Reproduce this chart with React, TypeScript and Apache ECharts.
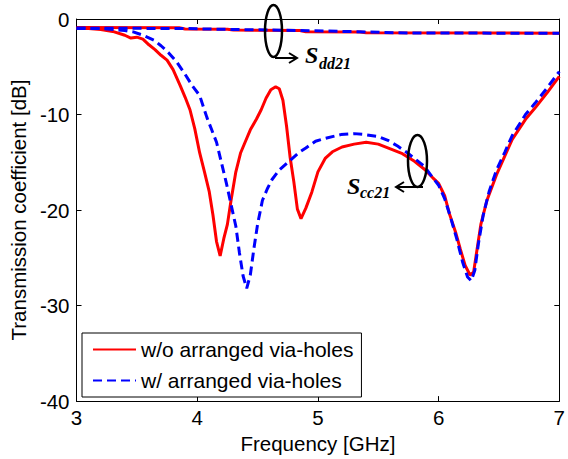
import React, { useEffect, useRef } from "react";
import * as echarts from "echarts";

// Common-mode transmission (Scc21), without arranged via-holes (red solid)
const freqWo = [3.0, 3.1, 3.2, 3.3, 3.4, 3.45, 3.5, 3.55, 3.6, 3.65, 3.7, 3.75, 3.8, 3.86, 3.9, 3.94, 3.98, 4.02, 4.06, 4.1, 4.13, 4.16, 4.19, 4.22, 4.25, 4.28, 4.32, 4.36, 4.4, 4.44, 4.49, 4.53, 4.57, 4.61, 4.65, 4.68, 4.71, 4.74, 4.77, 4.8, 4.83, 4.86, 4.9, 4.95, 5.0, 5.06, 5.12, 5.2, 5.3, 5.4, 5.5, 5.6, 5.7, 5.8, 5.88, 5.95, 6.0, 6.05, 6.09, 6.14, 6.18, 6.22, 6.26, 6.29, 6.32, 6.35, 6.4, 6.48, 6.55, 6.61, 6.72, 6.8, 6.9, 7.0];
const scc21Wo = [-1.0, -1.0, -1.1, -1.3, -1.7, -2.0, -1.9, -2.1, -2.7, -3.2, -3.8, -4.3, -5.3, -7.0, -8.2, -9.5, -11.5, -14.0, -16.0, -18.1, -20.5, -23.3, -24.8, -23.0, -21.5, -19.0, -16.0, -14.0, -12.8, -11.6, -10.5, -9.5, -8.3, -7.4, -7.1, -7.3, -8.5, -11.2, -14.5, -17.0, -19.9, -20.9, -19.8, -18.1, -16.0, -14.6, -13.9, -13.4, -13.1, -12.9, -13.1, -13.6, -14.1, -14.9, -15.7, -16.6, -17.2, -18.5, -20.4, -22.3, -24.1, -25.8, -26.8, -26.5, -24.0, -21.5, -19.0, -16.3, -14.3, -12.6, -10.5, -9.3, -7.7, -6.0];

// Common-mode transmission (Scc21), with arranged via-holes (blue dashed)
const freqW = [3.0, 3.2, 3.3, 3.4, 3.47, 3.55, 3.64, 3.7, 3.76, 3.83, 3.9, 3.96, 4.02, 4.08, 4.12, 4.16, 4.2, 4.24, 4.28, 4.32, 4.35, 4.38, 4.41, 4.44, 4.47, 4.5, 4.54, 4.58, 4.62, 4.68, 4.77, 4.84, 4.9, 4.98, 5.06, 5.19, 5.3, 5.39, 5.5, 5.58, 5.66, 5.74, 5.82, 5.88, 5.95, 6.0, 6.05, 6.1, 6.15, 6.2, 6.24, 6.27, 6.3, 6.33, 6.37, 6.42, 6.48, 6.55, 6.61, 6.72, 6.8, 6.9, 7.0];
const scc21W = [-1.0, -1.0, -1.1, -1.2, -1.35, -1.7, -2.2, -2.8, -3.5, -4.5, -5.8, -7.0, -8.0, -10.3, -11.6, -12.9, -15.0, -17.1, -19.4, -21.7, -24.5, -26.9, -28.2, -26.8, -24.0, -21.5, -19.0, -17.8, -16.8, -15.8, -14.8, -14.0, -13.5, -12.8, -12.5, -12.1, -12.0, -12.1, -12.3, -12.7, -13.3, -14.0, -14.8, -15.4, -16.6, -17.4, -18.8, -20.8, -23.0, -25.5, -27.0, -27.4, -26.3, -23.5, -20.5, -18.0, -15.8, -13.9, -12.2, -10.0, -8.8, -7.2, -5.5];

// Differential-mode transmission (Sdd21)
const freqDdWo = [3.0, 3.85, 3.9, 4.25, 4.3, 4.85, 4.9, 5.35, 5.4, 7.0];
const sdd21Wo = [-0.9, -0.92, -1.05, -1.07, -1.15, -1.2, -1.33, -1.35, -1.45, -1.48];
const freqDdW = [3.0, 3.9, 4.3, 4.85, 5.4, 5.65, 7.0];
const sdd21W = [-0.95, -1.0, -1.1, -1.2, -1.35, -1.45, -1.5];

const seriesNames = ["w/o arranged via-holes", "w/ arranged via-holes"];
const xTitle = "Frequency [GHz]";
const yTitle = "Transmission coefficient [dB]";

const pairs = (xs: number[], ys: number[]) => xs.map((x, i) => [x, ys[i]]);

const FONT = "Liberation Sans, Arial, sans-serif";
const SERIF = "Liberation Serif, DejaVu Serif, serif";

export default function App() {
  const ref = useRef<HTMLDivElement>(null);
  useEffect(() => {
    document.body.style.margin = "0";
    if (!ref.current) return;
    const chart = echarts.init(ref.current, null, { renderer: "svg" });
    const axisCommon = {
      type: "value" as const,
      axisLine: { show: true, onZero: false, lineStyle: { color: "#000", width: 1 } },
      axisTick: { show: true, inside: true, length: 5, lineStyle: { color: "#000", width: 1 } },
      splitLine: { show: false },
    };
    const red = "#ff0000";
    const blue = "#0000ff";
    const lineW = 3;
    const dash = [9, 5];
    chart.setOption({
      animation: false,
      backgroundColor: "#fff",
      grid: { left: 75, right: 4, top: 19, bottom: 56, containLabel: false },
      xAxis: [
        {
          ...axisCommon,
          min: 3,
          max: 7,
          interval: 1,
          name: xTitle,
          nameLocation: "middle",
          nameGap: 30,
          nameTextStyle: { fontSize: 20.5, color: "#000", fontFamily: FONT },
          axisLabel: { fontSize: 20.5, color: "#000", fontFamily: FONT, margin: 6 },
        },
        {
          ...axisCommon,
          position: "top",
          min: 3,
          max: 7,
          interval: 1,
          axisLabel: { show: false },
        },
      ],
      yAxis: [
        {
          ...axisCommon,
          min: -40,
          max: 0,
          interval: 10,
          name: yTitle,
          nameLocation: "middle",
          nameGap: 43,
          nameTextStyle: { fontSize: 20.5, color: "#000", fontFamily: FONT },
          axisLabel: { fontSize: 20.5, color: "#000", fontFamily: FONT, margin: 7 },
        },
        {
          ...axisCommon,
          position: "right",
          min: -40,
          max: 0,
          interval: 10,
          axisLabel: { show: false },
        },
      ],
      legend: {
        orient: "vertical",
        left: 82,
        top: 333,
        data: seriesNames,
        borderColor: "#000",
        borderWidth: 1,
        borderRadius: 0,
        backgroundColor: "#fff",
        padding: [6, 8, 6, 10],
        itemGap: 10,
        itemWidth: 43,
        itemHeight: 14,
        itemStyle: { opacity: 0, borderWidth: 0 },
        textStyle: { fontSize: 21, color: "#000", fontFamily: FONT, lineHeight: 20 },
      },
      series: [
        {
          name: seriesNames[0],
          type: "line",
          data: pairs(freqWo, scc21Wo),
          symbol: "none",
          lineStyle: { color: red, width: lineW, type: "solid" },
          itemStyle: { color: red },
        },
        {
          name: seriesNames[0],
          type: "line",
          data: pairs(freqDdWo, sdd21Wo),
          symbol: "none",
          lineStyle: { color: red, width: lineW, type: "solid" },
          itemStyle: { color: red },
        },
        {
          name: seriesNames[1],
          type: "line",
          data: pairs(freqW, scc21W),
          symbol: "none",
          lineStyle: { color: blue, width: lineW, type: dash },
          itemStyle: { color: blue },
        },
        {
          name: seriesNames[1],
          type: "line",
          data: pairs(freqDdW, sdd21W),
          symbol: "none",
          lineStyle: { color: blue, width: lineW, type: dash },
          itemStyle: { color: blue },
        },
      ],
      graphic: [
        { type: "ellipse", shape: { cx: 273.5, cy: 31, rx: 8.5, ry: 26 }, style: { fill: "none", stroke: "#000", lineWidth: 2.5 }, z: 10 },
        { type: "polyline", shape: { points: [[275, 58], [297, 58]] }, style: { stroke: "#000", lineWidth: 2, fill: "none" }, z: 10 },
        { type: "polyline", shape: { points: [[289, 53], [297, 58], [289, 63]] }, style: { stroke: "#000", lineWidth: 2, fill: "none" }, z: 10 },
        { type: "text", x: 305, y: 55, style: { text: "S", fontSize: 24, fontStyle: "italic", fontWeight: "bold", fontFamily: SERIF, fill: "#000", verticalAlign: "middle", align: "left" }, z: 10 },
        { type: "text", x: 319, y: 63, style: { text: "dd21", fontSize: 16, fontStyle: "italic", fontWeight: "bold", fontFamily: SERIF, fill: "#000", verticalAlign: "middle", align: "left" }, z: 10 },
        { type: "ellipse", shape: { cx: 417.5, cy: 161, rx: 9.5, ry: 26 }, style: { fill: "none", stroke: "#000", lineWidth: 2.5 }, z: 10 },
        { type: "polyline", shape: { points: [[423, 187], [396, 187]] }, style: { stroke: "#000", lineWidth: 2, fill: "none" }, z: 10 },
        { type: "polyline", shape: { points: [[404, 182], [396, 187], [404, 192]] }, style: { stroke: "#000", lineWidth: 2, fill: "none" }, z: 10 },
        { type: "text", x: 347, y: 186, style: { text: "S", fontSize: 24, fontStyle: "italic", fontWeight: "bold", fontFamily: SERIF, fill: "#000", verticalAlign: "middle", align: "left" }, z: 10 },
        { type: "text", x: 360, y: 192, style: { text: "cc21", fontSize: 16, fontStyle: "italic", fontWeight: "bold", fontFamily: SERIF, fill: "#000", verticalAlign: "middle", align: "left" }, z: 10 },
      ],
    });
    return () => chart.dispose();
  }, []);
  return <div ref={ref} style={{ width: 568, height: 459 }} />;
}
